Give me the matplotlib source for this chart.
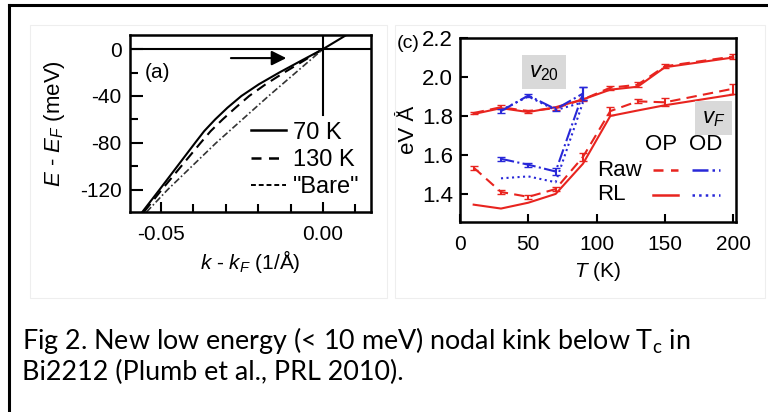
import matplotlib
matplotlib.use('Agg')
import matplotlib.pyplot as plt
from matplotlib.lines import Line2D
from matplotlib.patches import Rectangle
from matplotlib.ticker import MultipleLocator, FixedLocator, FormatStrFormatter

plt.rcParams['font.family'] = ['Liberation Sans', 'DejaVu Sans']
plt.rcParams['mathtext.fontset'] = 'custom'
plt.rcParams['mathtext.rm'] = 'Liberation Sans'
plt.rcParams['mathtext.it'] = 'Liberation Sans:italic'

# panel (a): dispersion near E_F
k_70 = [-0.0558, -0.0505, -0.0450, -0.0395, -0.0367, -0.0333, -0.0295, -0.0252, -0.0198, -0.0135,
        -0.0068, 0.0, 0.0072]
e_70 = [-139, -120, -100, -80, -70, -60, -50, -40, -30, -20, -10, 0, 12]
k_130 = [-0.0553, -0.0498, -0.0438, -0.0378, -0.0347, -0.0310, -0.0270, -0.0228, -0.0177, -0.0120,
         -0.0060, 0.0]
e_130 = [-139, -120, -100, -80, -70, -60, -50, -40, -30, -20, -10, 0]
k_bare = [-0.0545, -0.0480, -0.0330, -0.0168, 0.0]
e_bare = [-139, -120, -80, -40, 0]

# panel (c): velocities vs temperature
T_op = [10, 30, 50, 70, 90, 110, 130, 150, 200]
v20_op_raw = [1.815, 1.845, 1.825, 1.84, 1.885, 1.945, 1.96, 2.055, 2.105]
v20_op_raw_err = [0.005, 0.01, 0.008, 0.008, 0.008, 0.01, 0.012, 0.01, 0.012]
v20_op_rl = [1.81, 1.84, 1.82, 1.845, 1.885, 1.935, 1.95, 2.05, 2.10]
vF_op_raw = [1.535, 1.41, 1.385, 1.425, 1.59, 1.825, 1.875, 1.87, 1.94]
vF_op_raw_err = [0.01, 0.01, 0.01, 0.01, 0.02, 0.02, 0.01, 0.02, 0.025]
vF_op_rl = [1.345, 1.325, 1.355, 1.40, 1.555, 1.80, 1.828, 1.855, 1.91]

T_od = [30, 50, 70, 90]
v20_od_raw = [1.825, 1.905, 1.835, 1.915]
v20_od_raw_err = [0.01, 0.01, 0.01, 0.035]
v20_od_rl = [1.83, 1.90, 1.83, 1.87]
vF_od_raw = [1.58, 1.55, 1.515, 1.915]
vF_od_raw_err = [0.01, 0.01, 0.02, 0.035]
vF_od_rl = [1.48, 1.49, 1.46, 1.87]

W, H = 768, 412
red = '#e8241f'
blue = '#2828d8'
fs = 15


def box(l, t, r, b):
    return [l / W, 1 - b / H, (r - l) / W, (b - t) / H]


fig = plt.figure(figsize=(W / 100, H / 100), dpi=100)

# page frame and faint image borders
fig.add_artist(Line2D([9 / W, 1], [1 - 5 / H, 1 - 5 / H], color='black', lw=2.2))
fig.add_artist(Line2D([9 / W, 9 / W], [0, 1 - 5 / H], color='black', lw=2.2))
fig.add_artist(Rectangle((30 / W, 1 - 298 / H), 357 / W, 273 / H, fill=False,
                         edgecolor='#eeeeee', lw=0.8))
fig.add_artist(Rectangle((395 / W, 1 - 298 / H), 370 / W, 273 / H, fill=False,
                         edgecolor='#eeeeee', lw=0.8))

# ---- panel (a)
ax = fig.add_axes(box(130, 35, 371, 212))
ax.plot(k_70, e_70, color='black', lw=1.5)
ax.plot(k_130, e_130, color='black', lw=1.5, dashes=(5, 3))
ax.plot(k_bare, e_bare, color='#333333', lw=1.2, dashes=(4, 1.5, 1, 1.5))
ax.axhline(0, color='black', lw=1.5)
ax.plot([0, 0], [-56, 12], color='black', lw=1.5)
ax.annotate('', xy=(-0.0105, -7.7), xytext=(-0.0293, -7.7),
            arrowprops=dict(arrowstyle='-|>', color='black', lw=1.5, mutation_scale=22))
ax.set_xlim(-0.0596, 0.0148)
ax.set_ylim(-139, 12)
ax.xaxis.set_major_locator(FixedLocator([-0.05, 0.0]))
ax.xaxis.set_minor_locator(MultipleLocator(0.01))
ax.yaxis.set_major_locator(MultipleLocator(40))
ax.yaxis.set_minor_locator(MultipleLocator(20))
ax.set_xticklabels(['-0.05', '0.00'])
ax.set_yticklabels(['0' if v == 0 else '%d' % v for v in ax.get_yticks()])
ax.tick_params(which='both', direction='in', width=1.5, labelsize=fs, top=False, right=False)
ax.tick_params(axis='x', which='major', length=7, pad=9)
ax.tick_params(axis='y', which='major', length=9, pad=6)
ax.tick_params(which='minor', length=6)
for s in ax.spines.values():
    s.set_linewidth(1.8)
ax.set_xlabel(r'$k$ - $k_F$ (1/Å)', fontsize=fs, labelpad=3)
ax.set_ylabel(r'$E$ - $E_F$ (meV)', fontsize=16, labelpad=9)
ax.text(0.062, 0.79, '(a)', transform=ax.transAxes, fontsize=fs, va='center')
handles = [Line2D([], [], color='black', lw=1.8),
           Line2D([], [], color='black', lw=1.8, dashes=(4, 3)),
           Line2D([], [], color='black', lw=1.4, dashes=(2.5, 1.5))]
ax.legend(handles, ['70 K', '130 K', '"Bare"'], loc='upper left', bbox_to_anchor=(0.5, 0.51),
          frameon=False, fontsize=17, handlelength=1.5, handletextpad=0.3,
          labelspacing=0.22, borderpad=0, borderaxespad=0)

# ---- panel (c)
bx = fig.add_axes(box(460, 38, 736, 222))
bx.plot(T_op, v20_op_rl, color=red, lw=1.5)
bx.errorbar(T_op, v20_op_raw, yerr=v20_op_raw_err, color=red, lw=1.5, dashes=(5, 3),
            capsize=3, elinewidth=1.5)
bx.plot(T_op, vF_op_rl, color=red, lw=1.5)
bx.errorbar(T_op, vF_op_raw, yerr=vF_op_raw_err, color=red, lw=1.5, dashes=(5, 3),
            capsize=3, elinewidth=1.5)
bx.plot(T_od, v20_od_rl, color=blue, lw=1.5, ls=':')
bx.plot(T_od, vF_od_rl, color=blue, lw=1.5, ls=':')
bx.errorbar(T_od, v20_od_raw, yerr=v20_od_raw_err, color=blue, lw=1.5, ls='-.',
            capsize=3, elinewidth=1.5)
bx.errorbar(T_od, vF_od_raw, yerr=vF_od_raw_err, color=blue, lw=1.5, ls='-.',
            capsize=3, elinewidth=1.5)
bx.set_xlim(0, 202)
bx.set_ylim(1.256, 2.2)
bx.xaxis.set_major_locator(MultipleLocator(50))
bx.yaxis.set_major_locator(MultipleLocator(0.2))
bx.yaxis.set_major_formatter(FormatStrFormatter('%.1f'))
bx.tick_params(direction='in', length=6, width=1.5)
bx.tick_params(axis='x', labelsize=fs, pad=9)
bx.tick_params(axis='y', labelsize=16, pad=5)
for s in bx.spines.values():
    s.set_linewidth(1.8)
bx.set_xlabel(r'$T$ (K)', fontsize=fs, labelpad=5)
bx.set_ylabel('eV Å', fontsize=16, labelpad=2)

gray = dict(facecolor='#d9d9d9', edgecolor='none', pad=5)
bx.text(0.304, 0.815, r'$v_{\mathit{20}}$', transform=bx.transAxes, fontsize=16,
        ha='center', va='center', bbox=gray)
bx.text(0.92, 0.565, r'$v_{\mathit{F}}$', transform=bx.transAxes, fontsize=16,
        ha='center', va='center', bbox=gray)

# legend block: column headers, row names and key lines
bx.text((661 - 460) / 276, (222 - 145) / 184, 'OP', transform=bx.transAxes, fontsize=16,
        ha='center', va='center')
bx.text((706 - 460) / 276, (222 - 145) / 184, 'OD', transform=bx.transAxes, fontsize=16,
        ha='center', va='center')
bx.text((597 - 460) / 276, (222 - 170) / 184, 'Raw', transform=bx.transAxes, fontsize=16,
        ha='left', va='center')
bx.text((597 - 460) / 276, (222 - 195) / 184, 'RL', transform=bx.transAxes, fontsize=16,
        ha='left', va='center')
kx1, kx2 = (653 - 460) / 276, (678 - 460) / 276
kx3, kx4 = (692 - 460) / 276, (720 - 460) / 276
ry1, ry2 = (222 - 170) / 184, (222 - 195) / 184
bx.plot([kx1, kx2], [ry1, ry1], transform=bx.transAxes, color=red, lw=1.8, dashes=(4, 3))
bx.plot([kx1, kx2], [ry2, ry2], transform=bx.transAxes, color=red, lw=1.8)
bx.plot([kx3, kx4], [ry1, ry1], transform=bx.transAxes, color=blue, lw=1.8, ls='-.')
bx.plot([kx3, kx4], [ry2, ry2], transform=bx.transAxes, color=blue, lw=1.8, ls=':')

fig.text(408 / W, 1 - 44 / H, '(c)', fontsize=14, ha='center', va='center')

# caption
cap = dict(fontsize=19.4, family=['Lato', 'DejaVu Sans'], ha='left', va='center')
fig.text(22 / W, 1 - 340 / H, r'Fig 2. New low energy (< 10 meV) nodal kink below T$_\mathregular{c}$ in', **cap)
fig.text(22 / W, 1 - 372 / H, 'Bi2212 (Plumb et al., PRL 2010).', **cap)

fig.savefig('out.png', dpi=100)
